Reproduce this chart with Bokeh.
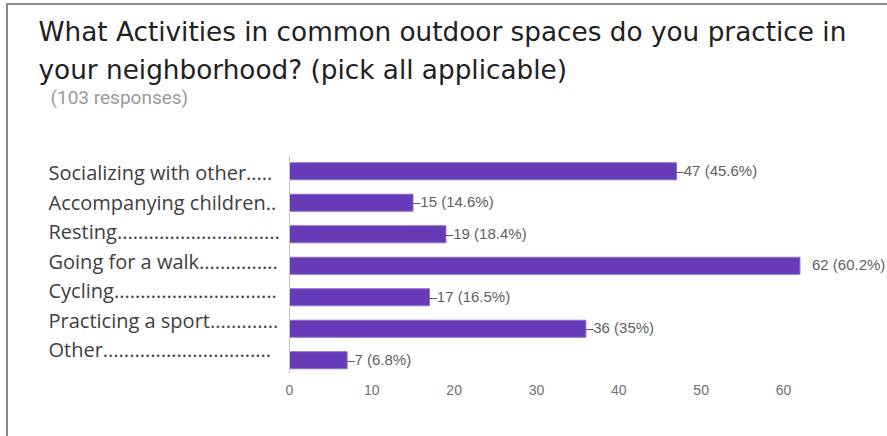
from bokeh.plotting import figure
from bokeh.models import ColumnDataSource, LabelSet, Label, FixedTicker, Range1d
from bokeh.core.properties import value
from bokeh.embed import file_html
from bokeh.resources import INLINE

title_lines = ["What Activities in common outdoor spaces do you practice in",
               "your neighborhood? (pick all applicable)"]
subtitle = "(103 responses)"
categories = ["Socializing with other.....",
              "Accompanying children..",
              "Resting...............................",
              "Going for a walk...............",
              "Cycling...............................",
              "Practicing a sport.............",
              "Other................................"]
counts = [47, 15, 19, 62, 17, 36, 7]
percents = ["45.6%", "14.6%", "18.4%", "60.2%", "16.5%", "35%", "6.8%"]
x_ticks = [0, 10, 20, 30, 40, 50, 60]

W, H = 887, 436
FRAME_H = 376          # frame covers canvas rows 0..376, x-axis below
X0_PX = 289            # pixel column of the value 0
PX_PER_UNIT = 8.233    # 10 units = 82.33 px
BAND_PX = 31.5
FIRST_BAR_PX = 170.75

n = len(categories)
ypos = list(range(n))
x_start = -X0_PX / PX_PER_UNIT
x_end = (W - X0_PX) / PX_PER_UNIT
y_bottom = (FRAME_H - FIRST_BAR_PX) / BAND_PX
y_top = -FIRST_BAR_PX / BAND_PX

p = figure(width=W, height=H, output_backend="svg", toolbar_location=None,
           x_range=Range1d(x_start, x_end), y_range=Range1d(y_bottom, y_top),
           y_axis_location=None,
           min_border_left=0, min_border_top=0, min_border_right=0,
           min_border_bottom=H - FRAME_H)
p.outline_line_color = None
p.grid.grid_line_color = None
p.background_fill_alpha = 0
p.border_fill_alpha = 0
p.styles = {"box-shadow": "inset 6px 3px 0 0 #ffffff, inset 8px 5px 0 0 #8a8a8a"}

labels_txt = []
offs = []
for c, pc in zip(counts, percents):
    if c == max(counts):
        labels_txt.append(f"{c} ({pc})")
        offs.append(12)
    else:
        labels_txt.append(f"–{c} ({pc})")
        offs.append(-1)

src = ColumnDataSource(dict(y=ypos, x=counts, lab=labels_txt, off=offs))
p.hbar(y="y", right="x", left=0, height=0.54, source=src,
       fill_color="#673AB7", line_color="#8C6BC8", line_width=1)
p.add_layout(LabelSet(x="x", y="y", text="lab", source=src, x_offset="off",
                      text_font=value("Liberation Sans"), text_font_size="15px",
                      text_color="#5f5f5f", text_baseline="middle", y_offset=1))

# category axis baseline
p.segment(x0=[0], x1=[0], y0=[-0.5], y1=[n - 0.6], line_color="#c4c4c4", line_width=1)

p.xaxis.ticker = FixedTicker(ticks=x_ticks)
p.xaxis.axis_line_color = None
p.xaxis.major_tick_line_color = None
p.xaxis.minor_tick_line_color = None
p.xaxis.major_label_standoff = 2
p.xaxis.major_label_text_font = "Liberation Sans"
p.xaxis.major_label_text_font_size = "14px"
p.xaxis.major_label_text_color = "#6f6f6f"


def place(rx, ry, text, **kw):
    # rx, ry: canvas position measured from top-left (frame origin = canvas origin)
    p.add_layout(Label(x=rx, y=FRAME_H - ry, x_units="screen", y_units="screen",
                       text=text, **kw))

place(38, 31, title_lines[0], text_font="DejaVu Sans", text_font_size="26.3px",
      text_color="#212121", text_baseline="middle")
place(38, 69, title_lines[1], text_font="DejaVu Sans", text_font_size="26.3px",
      text_color="#212121", text_baseline="middle")
place(50, 97, subtitle, text_font="Roboto", text_font_size="19px",
      text_color="#9a9a9a", text_baseline="middle")
for i, c in enumerate(categories):
    place(48, 172 + i * 29.5, c, text_font="Open Sans", text_font_size="20px",
          text_color="#404040", text_baseline="middle")

open("out.html", "w").write(file_html(p, INLINE))
